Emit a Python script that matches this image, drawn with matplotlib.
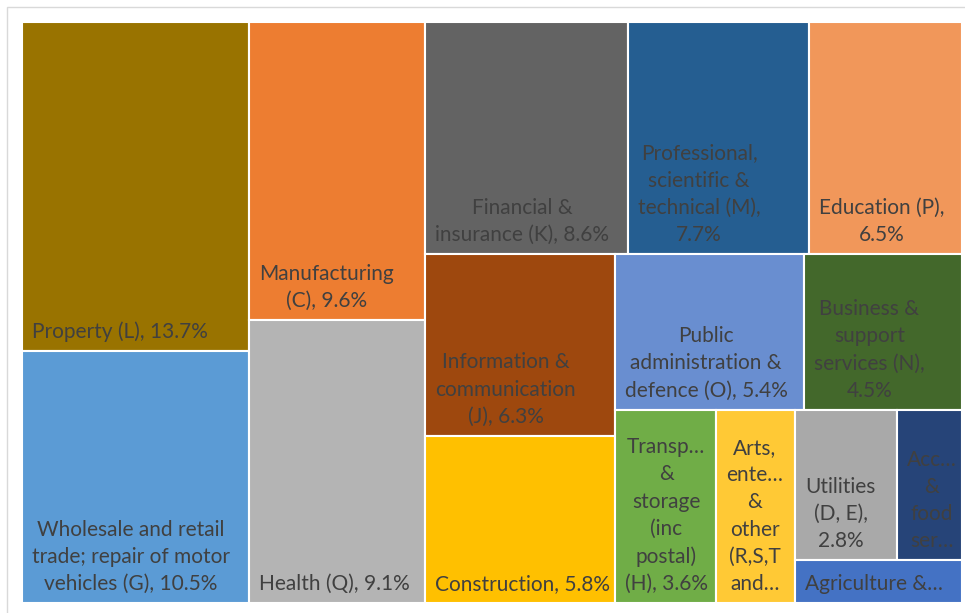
import math
import matplotlib
matplotlib.use("Agg")
import matplotlib.pyplot as plt
from matplotlib.patches import Rectangle

# GVA share by industry (%), sorted as in the chart
sectors = ["Property", "Wholesale & retail", "Manufacturing", "Health", "Financial & insurance",
           "Professional", "Education", "Information & communication", "Construction",
           "Public administration", "Business & support", "Transport & storage", "Arts & other",
           "Utilities", "Accommodation & food", "Agriculture"]
shares = [13.7, 10.5, 9.6, 9.1, 8.6, 7.7, 6.5, 6.3, 5.8, 5.4, 4.5, 3.6, 2.8, 2.8, 1.8, 1.3]
labels = ["Property (L), 13.7%",
          "Wholesale and retail\ntrade; repair of motor\nvehicles (G), 10.5%",
          "Manufacturing\n(C), 9.6%",
          "Health (Q), 9.1%",
          "Financial &\ninsurance (K), 8.6%",
          "Professional,\nscientific &\ntechnical (M),\n7.7%",
          "Education (P),\n6.5%",
          "Information &\ncommunication\n(J), 6.3%",
          "Construction, 5.8%",
          "Public\nadministration &\ndefence (O), 5.4%",
          "Business &\nsupport\nservices (N),\n4.5%",
          "Transp…\n&\nstorage\n(inc\npostal)\n(H), 3.6%",
          "Arts,\nente…\n&\nother\n(R,S,T\nand…",
          "Utilities\n(D, E),\n2.8%",
          "Acc…\n&\nfood\nser…",
          "Agriculture &…"]
colors = ["#997300", "#5B9BD5", "#ED7D31", "#B4B4B4", "#636363", "#255E91", "#F1975A",
          "#9E480E", "#FFC000", "#698ED0", "#43682B", "#70AD47", "#FFC935", "#A9A9A9",
          "#264478", "#4472C4"]
TXT = "#404040"


def treemap(vals, x, y, w, h, tau=1.3):
    """strip/squarify layout, cells aim at height/width ~ tau (Excel-like)"""
    areas = [v * w * h / sum(vals) for v in vals]
    out, i = [], 0
    while i < len(areas):
        vertical = w >= h
        side = h if vertical else w
        j, prev = i, math.inf
        while j < len(areas):
            cand = areas[i:j + 1]; t = sum(cand) / side
            rat = [(a / t) / t if vertical else t / (a / t) for a in cand]
            cost = max(abs(math.log(r / tau)) for r in rat)
            if cost > prev:
                break
            prev = cost; j += 1
        row = areas[i:j]; t = sum(row) / side; pos = 0
        for a in row:
            l = a / t
            out.append((x, y + pos, t, l) if vertical else (x + pos, y, l, t))
            pos += l
        if vertical:
            x += t; w -= t
        else:
            y += t; h -= t
        i = j
    return out


W, H = 965, 613
fig = plt.figure(figsize=(W / 100, H / 100), dpi=100)
ax = fig.add_axes([22 / W, 10 / H, 940 / W, 581 / H])
ax.set_xlim(0, 940); ax.set_ylim(581, 0); ax.axis("off")
fig.patches.append(Rectangle((7 / W, -1), 2, 1 + (H - 7) / H, transform=fig.transFigure,
                             fill=False, edgecolor="#D9D9D9", lw=1))

for (rx, ry, rw, rh), lab, col in zip(treemap(shares, 0, 0, 940, 581), labels, colors):
    ax.add_patch(Rectangle((rx, ry), rw, rh, facecolor=col, edgecolor="white", lw=1.5))
    ax.text(rx + 10, ry + rh - 9, lab, ha="left", va="bottom", multialignment="center",
            fontsize=15, family=["Lato", "DejaVu Sans"], color=TXT, linespacing=1.45)

fig.savefig("out.png", dpi=100)
